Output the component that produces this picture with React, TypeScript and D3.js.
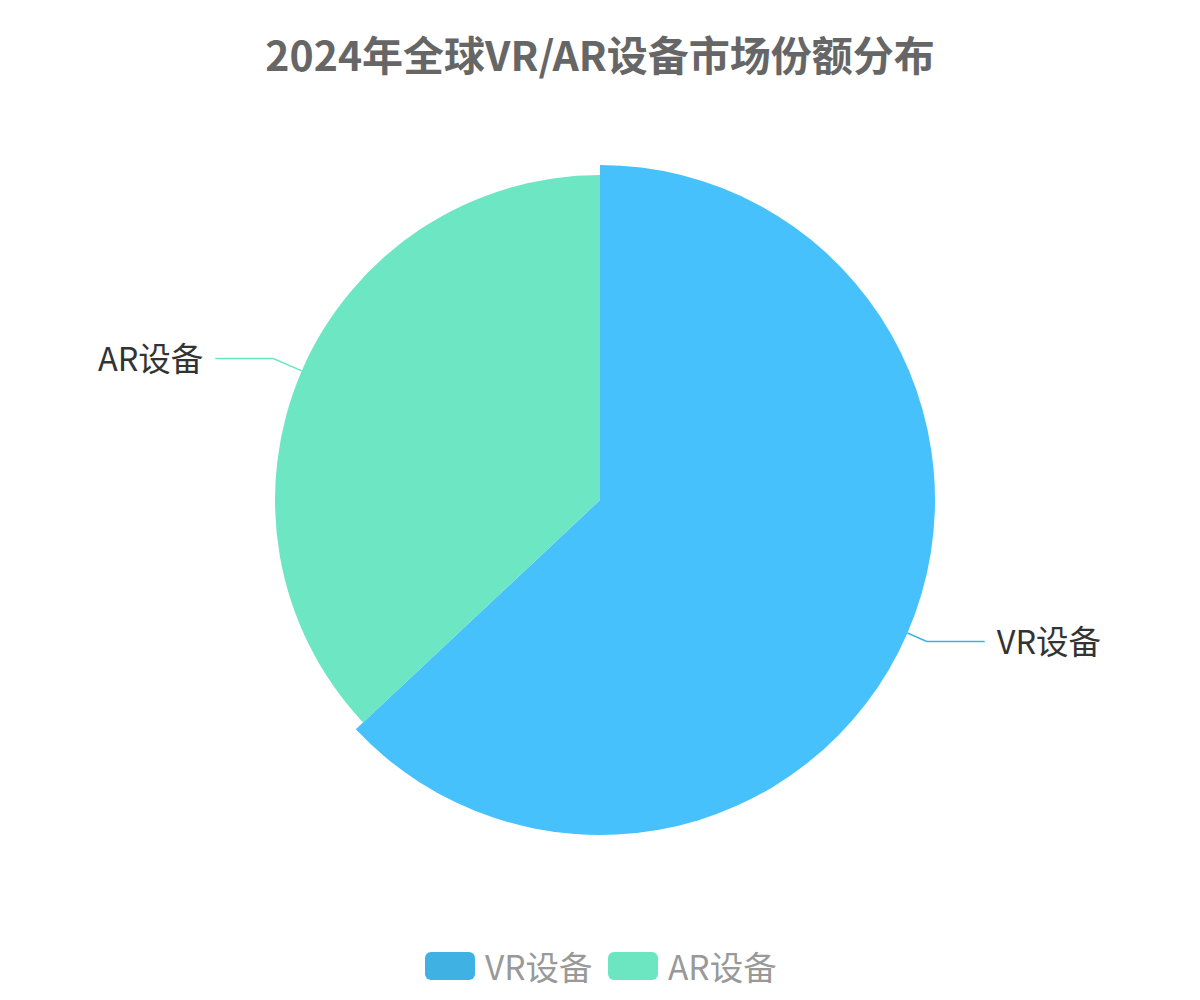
import { useEffect, useRef } from 'react';
import * as d3 from 'd3';

const categories = ['VR设备', 'AR设备'];
const shares = [63, 37];
const sliceColors = ['#46c1fb', '#6ce6c3'];
const legendColors = ['#3fb1e3', '#6be6c1'];
const titleText = '2024年全球VR/AR设备市场份额分布';

export default function App() {
  const svgRef = useRef<SVGSVGElement>(null);

  useEffect(() => {
    if (!svgRef.current) return;
    document.body.style.margin = '0';

    const width = 1200;
    const svg = d3.select(svgRef.current);
    svg.selectAll('*').remove();

    const font = '"Noto Sans CJK SC", "Noto Sans", sans-serif';
    const cx = 600;
    const cy = 500;
    const baseR = 325;
    const bigR = 335; // VR slice is drawn emphasized
    const elbowR = 356;
    const tail = 58;

    // Title
    svg.append('text')
      .attr('x', width / 2)
      .attr('y', 53)
      .attr('text-anchor', 'middle')
      .attr('dominant-baseline', 'central')
      .attr('font-family', font)
      .attr('font-weight', 'bold')
      .attr('font-size', 41)
      .attr('fill', '#666')
      .text(titleText);

    const data = categories.map((c, i) => ({ name: c, value: shares[i], i }));
    const pie = d3.pie<any>().sort(null).value(d => d.value);
    const arcs = pie(data);

    const g = svg.append('g').attr('transform', `translate(${cx}, ${cy})`);

    g.selectAll('path.slice')
      .data(arcs)
      .join('path')
      .attr('class', 'slice')
      .attr('d', d => d3.arc<any>().innerRadius(0).outerRadius(d.data.i === 0 ? bigR : baseR)(d) as string)
      .attr('fill', d => sliceColors[d.data.i]);

    // Leader lines and labels
    arcs.forEach(d => {
      const mid = (d.startAngle + d.endAngle) / 2;
      const r0 = d.data.i === 0 ? bigR : baseR;
      const sx = Math.sin(mid);
      const sy = -Math.cos(mid);
      const p0: [number, number] = [sx * r0, sy * r0];
      const p1: [number, number] = [sx * elbowR, sy * elbowR];
      const right = sx > 0;
      const p2: [number, number] = [p1[0] + (right ? tail : -tail), p1[1]];

      g.append('path')
        .attr('d', d3.line()([p0, p1, p2]) as string)
        .attr('fill', 'none')
        .attr('stroke', legendColors[d.data.i])
        .attr('stroke-width', 1.5);

      g.append('text')
        .attr('x', p2[0] + (right ? 12 : -12))
        .attr('y', p2[1] - 2)
        .attr('text-anchor', right ? 'start' : 'end')
        .attr('dominant-baseline', 'central')
        .attr('font-family', font)
        .attr('font-size', 32.5)
        .attr('fill', '#333')
        .text(d.data.name);
    });

    // Legend
    const legendX = [425, 608];
    const legend = svg.append('g');
    categories.forEach((c, i) => {
      legend.append('rect')
        .attr('x', legendX[i])
        .attr('y', 952)
        .attr('width', 50)
        .attr('height', 28)
        .attr('rx', 6)
        .attr('fill', legendColors[i]);
      legend.append('text')
        .attr('x', legendX[i] + 60)
        .attr('y', 965)
        .attr('dominant-baseline', 'central')
        .attr('font-family', font)
        .attr('font-size', 33.5)
        .attr('fill', '#999')
        .text(c);
    });
  }, []);

  return <svg ref={svgRef} width={1200} height={1000} style={{ display: 'block' }} />;
}
